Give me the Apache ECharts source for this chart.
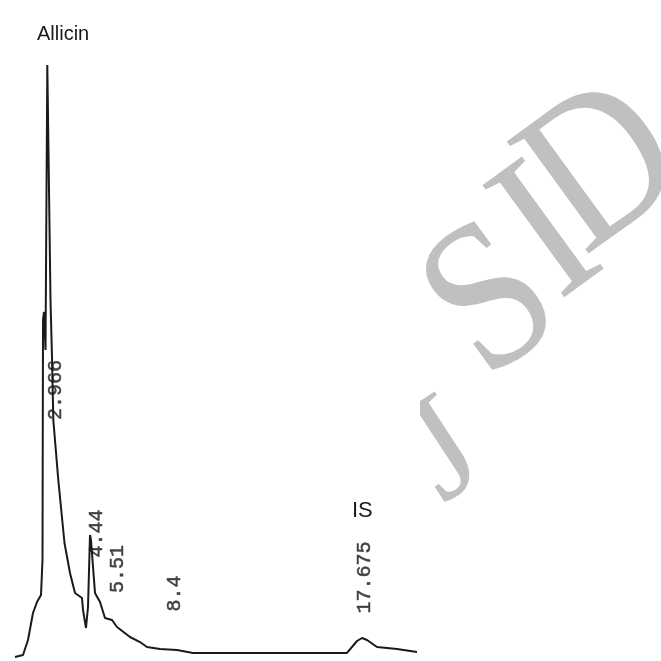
<!DOCTYPE html>
<html>
<head>
<meta charset="utf-8">
<script src="https://cdn.jsdelivr.net/npm/echarts@6/dist/echarts.min.js"></script>
<style>html,body{margin:0;padding:0;background:#fff;}#c{width:661px;height:661px;}</style>
</head>
<body>
<div id="c"></div>
<script>
// Retention time (min) and detector response (% of Allicin peak height)
var times = [0.732,1.123,1.367,1.611,1.807,2.002,2.075,2.100,2.148,2.222,2.310,2.358,2.466,2.539,2.603,2.847,3.149,3.418,3.662,4.004,4.053,4.199,4.297,4.395,4.443,4.639,4.883,5.127,5.469,5.713,6.348,6.836,7.178,7.813,8.643,9.424,16.943,17.432,17.676,17.920,18.408,19.385,20.361];
var signal = [0.00,0.34,2.87,7.43,9.29,10.47,16.39,56.93,58.28,51.86,100.0,99.83,60.30,50.68,40.03,29.90,19.26,14.19,10.81,9.97,7.94,4.90,8.45,20.61,19.76,10.81,9.29,6.59,6.25,5.07,3.38,2.53,1.69,1.35,1.18,0.68,0.68,2.70,3.21,2.87,1.69,1.35,0.84];

// Peak annotations printed by the integrator
var peakLabels = ['2.966','4.44','5.51','8.4','17.675'];
var peakLabelTimes = [2.734,4.736,5.737,8.545,17.822];
var peakLabelHeights = [45.1,20.86,14.86,10.73,13.43];

// Compound names
var compoundNames = ['Allicin','IS'];

// Watermark letters
var watermarkLetters = ['S','I','D'];

var chart = echarts.init(document.getElementById('c'), null, {renderer:'canvas'});
var labelData = peakLabels.map(function(l,i){ return {name:l, value:[peakLabelTimes[i], peakLabelHeights[i]]}; });
var wmPos = [[494,306],[551,238],[606,172]];
var graphics = watermarkLetters.map(function(ch,i){
  return {type:'text', x:wmPos[i][0], y:wmPos[i][1], rotation:0.63, scaleX:0.88, z:0,
    style:{text:ch, textAlign:'center', textVerticalAlign:'middle', font:'212px "Liberation Serif"', fill:'#c0c0c0'}};
});
graphics.push(
  {type:'text', x:445, y:455, rotation:0.58, z:0,
   style:{text:'J', textAlign:'center', textVerticalAlign:'middle', font:'150px "Liberation Serif"', fill:'#c0c0c0'}},
  {type:'rect', shape:{x:330, y:370, width:90, height:128}, z:1, style:{fill:'#ffffff'}},
  {type:'text', x:37, y:24, z:5,
   style:{text:compoundNames[0], font:'20px "Liberation Sans"', fill:'#1a1a1a'}},
  {type:'text', x:352, y:500, z:5,
   style:{text:compoundNames[1], font:'22px "Liberation Sans"', fill:'#1a1a1a'}}
);
chart.setOption({
  animation:false,
  backgroundColor:'#ffffff',
  grid:{left:0, top:65, width:614.4, height:592},
  xAxis:{type:'value', min:0, max:30, show:false},
  yAxis:{type:'value', min:0, max:100, show:false},
  graphic:graphics,
  series:[
    {type:'line', data:times.map(function(t,i){return [t, signal[i]];}), showSymbol:false, smooth:false,
     lineStyle:{color:'#1a1a1a', width:2}, z:3},
    {type:'scatter', data:labelData, symbolSize:0, z:4,
     label:{show:true, position:'inside', rotate:90, formatter:'{b}', color:'#1a1a1a',
            textBorderColor:'#1a1a1a', textBorderWidth:0.5,
            fontFamily:'Liberation Mono', fontSize:20}}
  ]
});
</script>
</body>
</html>
